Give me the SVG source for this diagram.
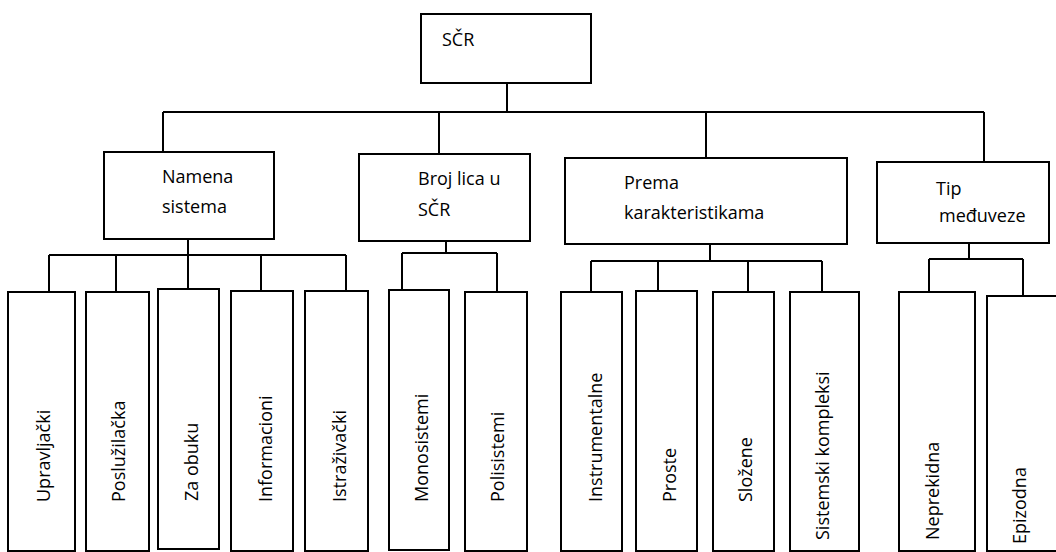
<svg xmlns="http://www.w3.org/2000/svg" width="1056" height="552" viewBox="0 0 1056 552">
<style>
.box{fill:#fff;stroke:#000;stroke-width:2}
.ln{fill:none;stroke:#000;stroke-width:2}
text{font-family:"Open Sans","Noto Sans","Liberation Sans",sans-serif;font-size:18px;fill:#000}
</style>
<rect width="1056" height="552" fill="#fff"/>
<g id="connectors" class="ln">
<path d="M507,83V112 M163,112H984 M163,112V152 M439,112V154 M706,112V158 M984,112V162"/>
<path d="M188,239V255 M49,255H346 M49,255V292 M116,255V292 M188,255V289 M261,255V291 M346,255V291"/>
<path d="M446,241V253 M402,253H497 M402,253V290 M497,253V292"/>
<path d="M710,244V261 M591,261H822 M591,261V292 M658,261V291 M748,261V292 M822,261V295"/>
<path d="M969,243V259 M929,259H1023 M929,259V292 M1023,259V296"/>
</g>
<g id="n-scr"><rect class="box" x="421" y="14" width="170" height="69"/><text x="442" y="46">SČR</text></g>
<g id="n-namena"><rect class="box" x="104" y="152" width="170" height="87"/><text x="162" y="183">Namena</text><text x="162" y="213">sistema</text></g>
<g id="n-broj"><rect class="box" x="359" y="154" width="171" height="87"/><text x="418" y="185">Broj lica u</text><text x="418" y="216">SČR</text></g>
<g id="n-prema"><rect class="box" x="565" y="158" width="282" height="86"/><text x="624" y="189">Prema</text><text x="624" y="219">karakteristikama</text></g>
<g id="n-tip"><rect class="box" x="877" y="162" width="172" height="81"/><text x="936" y="195">Tip</text><text x="939" y="222">međuveze</text></g>
<g id="n-upravljacki"><rect class="box" x="8" y="292" width="67" height="259"/><text transform="translate(50,502) rotate(-90)">Upravljački</text></g>
<g id="n-posluzilacka"><rect class="box" x="86" y="292" width="63" height="259"/><text transform="translate(125,502) rotate(-90)">Poslužilačka</text></g>
<g id="n-zaobuku"><rect class="box" x="158" y="289" width="61" height="260"/><text transform="translate(198,501) rotate(-90)">Za obuku</text></g>
<g id="n-informacioni"><rect class="box" x="231" y="291" width="62" height="260"/><text transform="translate(272,502) rotate(-90)">Informacioni</text></g>
<g id="n-istrazivacki"><rect class="box" x="305" y="291" width="63" height="260"/><text transform="translate(346,502) rotate(-90)">Istraživački</text></g>
<g id="n-monosistemi"><rect class="box" x="389" y="290" width="60" height="260"/><text transform="translate(428,502) rotate(-90)">Monosistemi</text></g>
<g id="n-polisistemi"><rect class="box" x="465" y="292" width="62" height="259"/><text transform="translate(504,502) rotate(-90)">Polisistemi</text></g>
<g id="n-instrumentalne"><rect class="box" x="561" y="292" width="61" height="259"/><text transform="translate(602,502) rotate(-90)">Instrumentalne</text></g>
<g id="n-proste"><rect class="box" x="636" y="291" width="61" height="260"/><text transform="translate(676,502) rotate(-90)">Proste</text></g>
<g id="n-slozene"><rect class="box" x="713" y="292" width="61" height="259"/><text transform="translate(752,502) rotate(-90)">Složene</text></g>
<g id="n-sistemski"><rect class="box" x="790" y="292" width="69" height="259"/><text transform="translate(829,540) rotate(-90)">Sistemski kompleksi</text></g>
<g id="n-neprekidna"><rect class="box" x="899" y="292" width="76" height="259"/><text transform="translate(939,540) rotate(-90)">Neprekidna</text></g>
<g id="n-epizodna"><rect class="box" x="987" y="296" width="80" height="255"/><text transform="translate(1026,544) rotate(-90)">Epizodna</text></g>
</svg>
